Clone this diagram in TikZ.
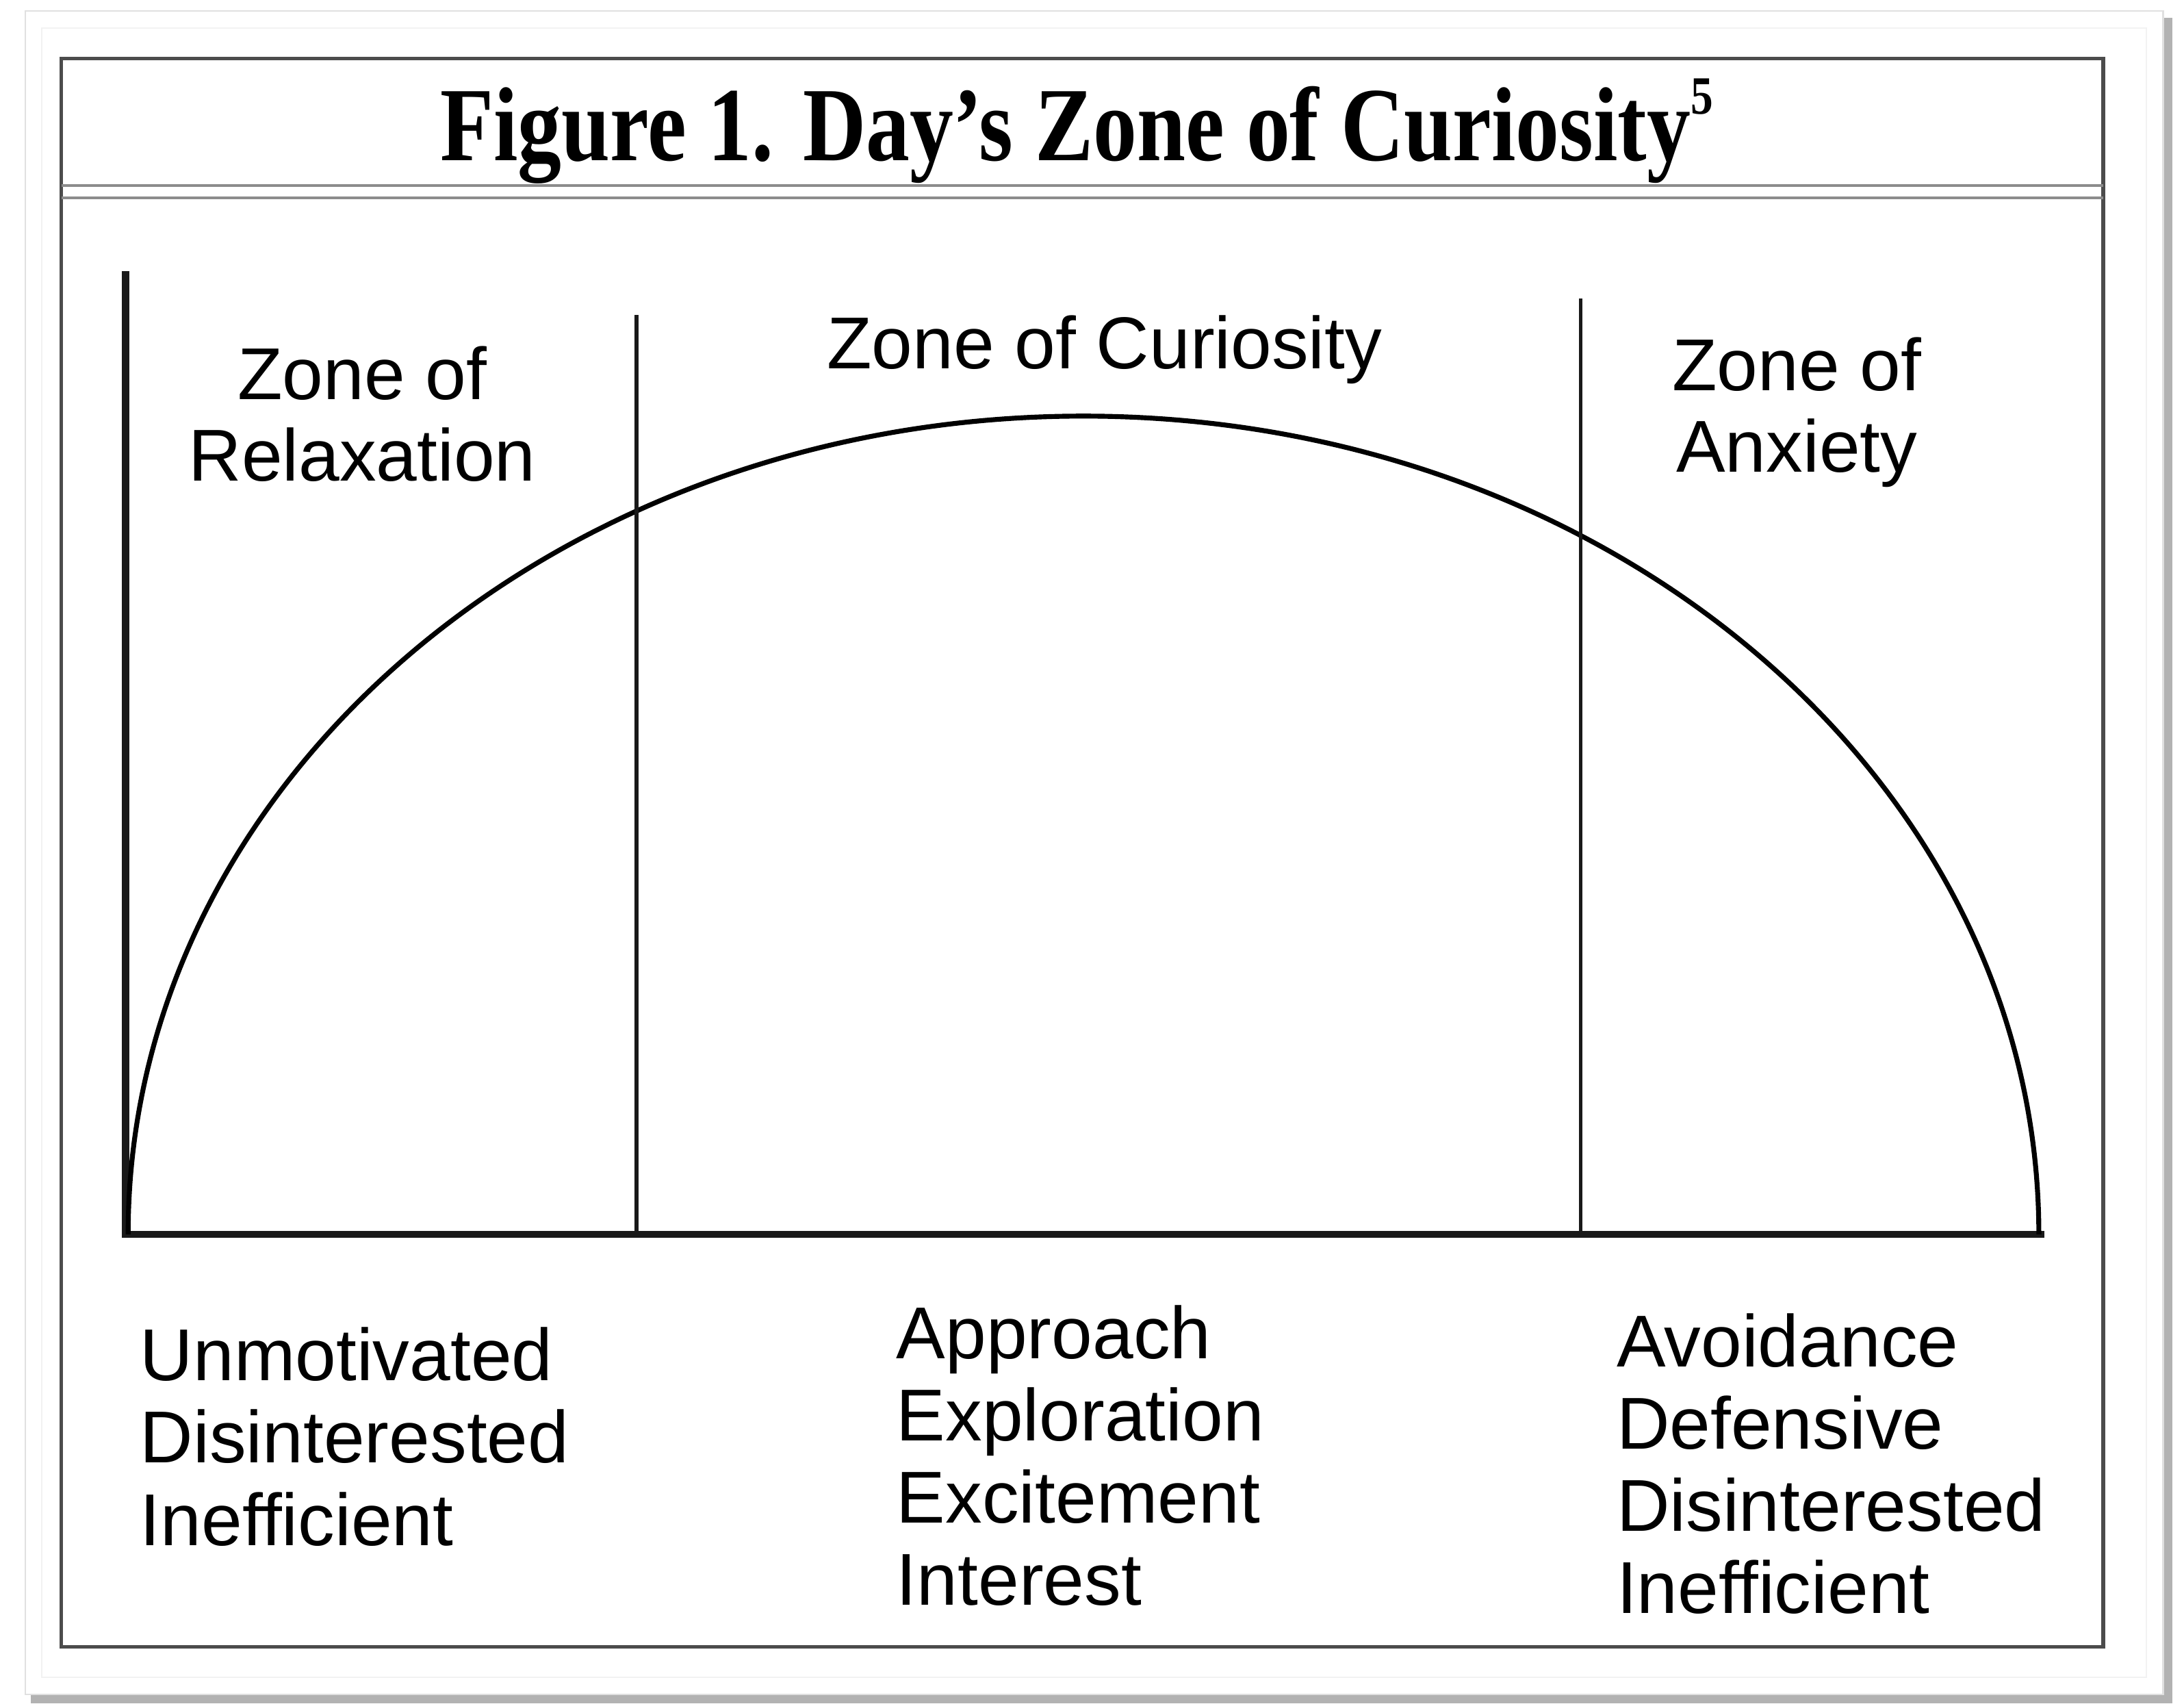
\documentclass[tikz,border=0pt]{standalone}
\usepackage{fontspec}
\setmainfont{Liberation Sans}
\newfontfamily\titlefont[FakeStretch=0.83]{Liberation Serif}
\tikzstyle{zoneLabel} = [align=center, inner sep=0pt, font=\fontsize{15}{16.6}\selectfont]
\tikzstyle{traitList} = [align=left, anchor=north west, inner sep=0pt, font=\fontsize{15}{16.8}\selectfont]
\tikzstyle{axisLine} = [line width=1.5pt, black!90]
\tikzstyle{zoneDivider} = [line width=0.75pt, black!90]

\begin{document}
\begin{tikzpicture}[x=0.01cm, y=0.01cm]
    \useasboundingbox (0,0) rectangle (1568,1223);

    \draw[black!30, line width=2pt] (1556,1210) -- (1556,4) -- (22,4);
    \draw[black!12, line width=0.3pt] (18,1215) rectangle (1553,7);
    \draw[black!5, line width=0.3pt] (30,1203) rectangle (1541,19);
    \draw[black!70, line width=0.8pt] (44,1181) rectangle (1510,41);
    \draw[black!45, line width=0.6pt] (44,1090) -- (1510,1090);
    \draw[black!45, line width=0.6pt] (44,1081) -- (1510,1081);
    \node[anchor=base, inner sep=0pt, font=\titlefont\bfseries\fontsize{21.5}{24}\selectfont] (title) at (773,1108) {Figure 1. Day’s Zone of Curiosity\raisebox{0.95ex}{\fontsize{11}{11}\selectfont 5}};

    \coordinate (origin) at (90,337);
    \coordinate (yTop) at (90,1026);
    \coordinate (xEnd) at (1465,337);
    \draw[axisLine, line cap=rect] (yTop) -- (origin) -- (xEnd);
    \draw[line width=1pt] (92,337) arc[start angle=180, end angle=0, x radius=6.855cm, y radius=5.87cm];
    \draw[zoneDivider] (457,337) -- (457,997);
    \draw[zoneDivider] (1135,337) -- (1135,1009);

    \node[zoneLabel] (relax) at (260,926) {Zone of\\Relaxation};
    \node[zoneLabel] (curious) at (793,972) {Zone of Curiosity};
    \node[zoneLabel] (anxious) at (1290,927) {Zone of\\Anxiety};

    \node[traitList] (relaxTraits) at (100,271) {Unmotivated\\Disinterested\\Inefficient};
    \node[traitList] (curiousTraits) at (643,287) {Approach\\Exploration\\Excitement\\Interest};
    \node[traitList] (anxiousTraits) at (1160,281) {Avoidance\\Defensive\\Disinterested\\Inefficient};
\end{tikzpicture}
\end{document}
